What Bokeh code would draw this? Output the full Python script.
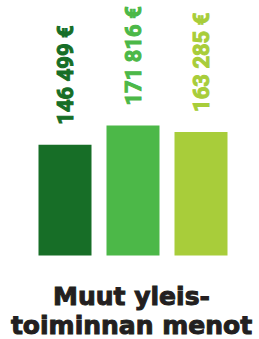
import math
from bokeh.plotting import figure
from bokeh.models import ColumnDataSource, Range1d, Label
from bokeh.core.properties import value
from bokeh.embed import file_html
from bokeh.resources import INLINE

# Data
categories = ["A", "B", "C"]
values = [146499, 171816, 163285]
colors = ["#176e27", "#4cb848", "#a8cd3a"]
labels = [f"{v:,}".replace(",", " ") + " €" for v in values]
title_lines = ["Muut yleis-", "toiminnan menot"]

W, H = 259, 339
px_per_unit_x = 68.0
x0_px = 64.5
x_start = -x0_px / px_per_unit_x
x_end = x_start + W / px_per_unit_x

units_per_px_y = 171816 / 130.0
y_start = -84 * units_per_px_y
y_end = y_start + H * units_per_px_y

p = figure(width=W, height=H, output_backend="svg", toolbar_location=None,
           x_range=Range1d(x_start, x_end), y_range=Range1d(y_start, y_end),
           min_border=0)
p.axis.visible = False
p.grid.visible = False
p.outline_line_color = None
p.background_fill_color = "white"
p.border_fill_color = "white"

src = ColumnDataSource(dict(x=list(range(len(categories))), top=values,
                            color=colors, label=labels))
p.vbar(x="x", top="top", bottom=0, width=53 / px_per_unit_x, color="color",
       line_color=None, source=src)
p.text(x="x", y="top", text="label", source=src, angle=math.pi / 2,
       text_align="left", text_baseline="middle", y_offset=-20,
       text_color="color", text_outline_color="color",
       text_font=value("Roboto"), text_font_style="bold",
       text_font_size="22px")

for txt, yb in zip(title_lines, [43, 14]):
    p.add_layout(Label(x=131, y=yb, x_units="screen", y_units="screen",
                       text=txt, text_align="center", text_baseline="alphabetic",
                       text_font="DejaVu Sans", text_font_style="bold",
                       text_font_size="25px", text_color="#231f20",
                       text_outline_color="#231f20"))

open("out.html", "w").write(file_html(p, INLINE))
